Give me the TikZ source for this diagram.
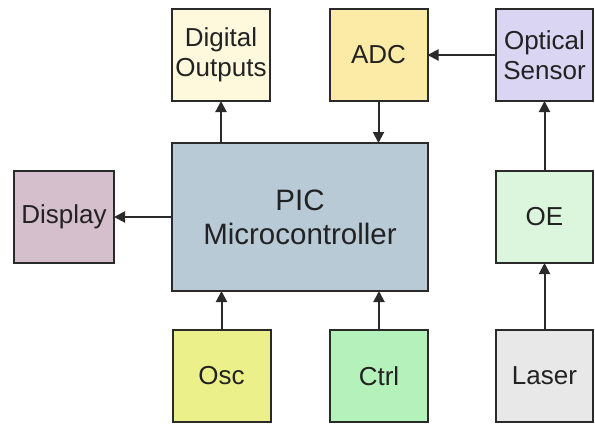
\documentclass[tikz,border=0pt]{standalone}
\usepackage{fontspec}
\setmainfont{Liberation Sans}
\usetikzlibrary{arrows.meta}
\definecolor{cDO}{HTML}{FEF8DC}
\definecolor{cADC}{HTML}{FBEBA6}
\definecolor{cOS}{HTML}{DAD5F2}
\definecolor{cPIC}{HTML}{B9CAD7}
\definecolor{cDisp}{HTML}{D6BFCC}
\definecolor{cOE}{HTML}{DCF6DE}
\definecolor{cOsc}{HTML}{EBF08A}
\definecolor{cCtrl}{HTML}{B4F1BB}
\definecolor{cLaser}{HTML}{E8E8E8}
\definecolor{cLine}{HTML}{2A2A2A}
\definecolor{cText}{HTML}{222222}
\tikzset{
  blk/.style={draw=cLine, line width=2pt, rectangle, inner sep=0pt, outer sep=0pt,
    text=cText, align=center, minimum width=98pt, minimum height=92pt,
    font=\fontsize{26}{30}\selectfont},
  conn/.style={draw=cLine, line width=2pt, -{Triangle[length=11pt,width=11pt]}}
}
\begin{document}
\begin{tikzpicture}[x=1pt,y=-1pt]
\useasboundingbox[fill=white] (0,0) rectangle (595,424);
\node[blk, fill=cDO] (do) at (221,55) {Digital\\Outputs};
\node[blk, fill=cADC] (adc) at (378.5,55) {ADC};
\node[blk, fill=cOS, minimum width=97pt] (os) at (544.5,55) {Optical\\Sensor};
\node[blk, fill=cPIC, minimum width=256pt, minimum height=148pt,
  font=\fontsize{29.5}{34}\selectfont] (pic) at (300,217) {PIC\\Microcontroller};
\node[blk, fill=cDisp, minimum width=100pt] (disp) at (64,217) {Display};
\node[blk, fill=cOE, minimum width=97pt] (oe) at (544.5,217) {OE};
\node[blk, fill=cOsc] (osc) at (221.5,376) {Osc};
\node[blk, fill=cCtrl] (ctrl) at (379,376) {Ctrl};
\node[blk, fill=cLaser, minimum width=97pt] (laser) at (544.5,376) {Laser};
\draw[conn] (do.south |- pic.north) -- (do.south);
\draw[conn] (adc.south) -- (adc.south |- pic.north);
\draw[conn] (os.west) -- (adc.east);
\draw[conn] (pic.west) -- (disp.east);
\draw[conn] (oe.north) -- (os.south);
\draw[conn] (laser.north) -- (oe.south);
\draw[conn] (osc.north) -- (osc.north |- pic.south);
\draw[conn] (ctrl.north) -- (ctrl.north |- pic.south);
\end{tikzpicture}
\end{document}
